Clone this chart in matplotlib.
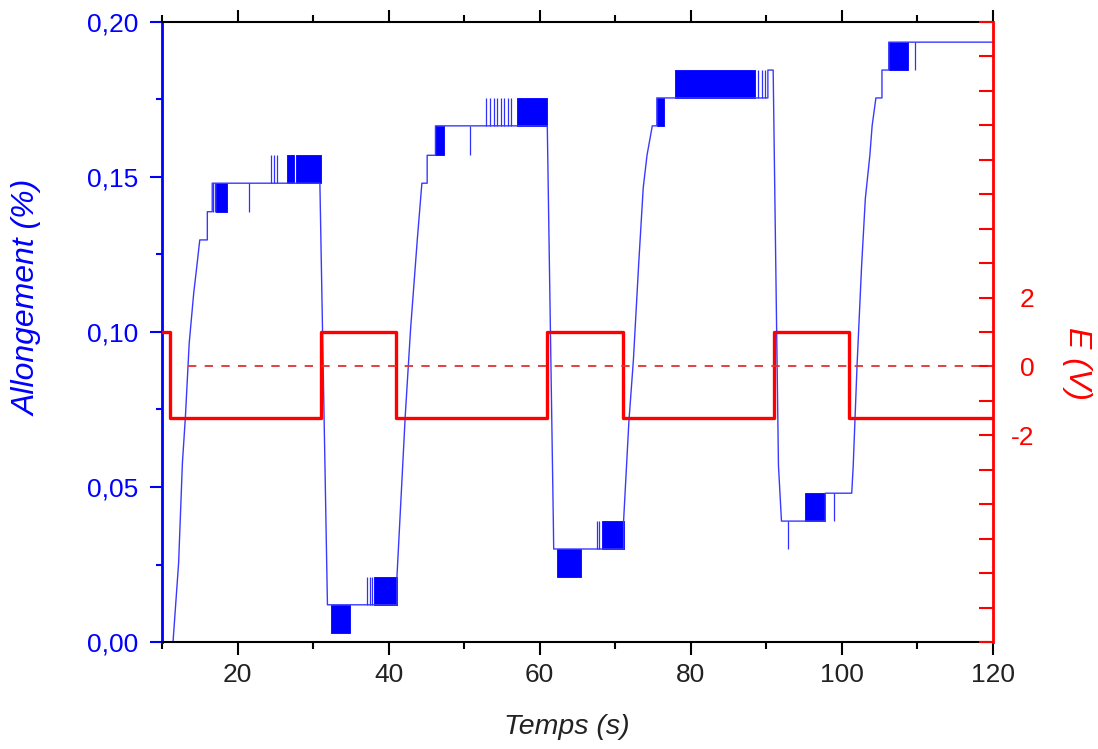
import matplotlib
matplotlib.use("Agg")
import matplotlib.pyplot as plt
from matplotlib.ticker import MultipleLocator, FixedLocator, FixedFormatter, FuncFormatter

plt.rcParams['font.family'] = ['Liberation Sans', 'DejaVu Sans']
plt.rcParams['lines.scale_dashes'] = False

# === Data ===
# strain trace (main envelope)
t_trace = [11.4, 12.2, 12.7, 13.1, 13.6, 14.2, 14.6, 15.0, 16.0, 16.0, 16.65, 16.65,
           30.9, 31.9, 41.1, 41.1, 41.8, 42.2, 42.9, 43.8, 44.4, 45.1, 45.1, 46.2, 46.2,
           61.0, 61.8, 61.85, 71.1, 71.1, 71.8, 72.4, 73.1, 73.7, 74.2, 74.9, 75.5, 75.5,
           90.2, 90.2, 90.9, 91.6, 92.0, 97.8, 97.8, 101.3, 101.5, 102.0, 102.6, 103.1,
           103.7, 104.0, 104.5, 105.3, 105.3, 106.2, 106.2, 120.0]
strain = [-0.002, 0.0255, 0.0577, 0.0727, 0.0964, 0.1126, 0.1210, 0.1297, 0.1297, 0.1388, 0.1388, 0.1480,
          0.1480, 0.0120, 0.0120, 0.0210, 0.0540, 0.0730, 0.1008, 0.1300, 0.1480, 0.1480, 0.1570, 0.1570, 0.1665,
          0.1665, 0.0390, 0.0300, 0.0300, 0.0390, 0.0710, 0.0910, 0.1220, 0.1465, 0.1570, 0.1665, 0.1665, 0.1755,
          0.1755, 0.1845, 0.1845, 0.0570, 0.0390, 0.0390, 0.0480, 0.0480, 0.0570, 0.0890, 0.1210, 0.1430,
          0.1570, 0.1665, 0.1755, 0.1755, 0.1845, 0.1845, 0.1935, 0.1935]

# dense flicker bands between two quantisation levels
band_t0 = [17.1, 26.6, 27.75, 32.4, 38.0, 46.2, 57.0, 62.3, 68.2, 75.5, 77.85, 95.1, 106.2]
band_t1 = [18.55, 27.45, 31.0, 34.9, 41.1, 47.3, 61.0, 65.4, 71.1, 76.4, 88.5, 97.8, 108.7]
band_lo = [0.1388, 0.148, 0.148, 0.003, 0.012, 0.157, 0.1665, 0.021, 0.030, 0.1665, 0.1755, 0.039, 0.1845]
band_hi = [0.148, 0.157, 0.157, 0.012, 0.021, 0.1665, 0.1755, 0.030, 0.039, 0.1755, 0.1845, 0.048, 0.1935]

# isolated flicker spikes
spike_t = [16.8, 16.95, 21.5, 24.4, 24.85, 25.25, 37.2, 37.5, 37.8, 50.8,
           52.9, 53.45, 53.95, 54.4, 54.9, 55.3, 55.75, 56.2, 67.6, 67.9,
           88.95, 89.4, 89.85, 92.9, 98.9, 109.7]
spike_lo = [0.1388, 0.1388, 0.1388, 0.148, 0.148, 0.148, 0.012, 0.012, 0.012, 0.157,
            0.1665, 0.1665, 0.1665, 0.1665, 0.1665, 0.1665, 0.1665, 0.1665, 0.030, 0.030,
            0.1755, 0.1755, 0.1755, 0.030, 0.039, 0.1845]
spike_hi = [0.148, 0.148, 0.148, 0.157, 0.157, 0.157, 0.021, 0.021, 0.021, 0.1665,
            0.1755, 0.1755, 0.1755, 0.1755, 0.1755, 0.1755, 0.1755, 0.1755, 0.039, 0.039,
            0.1845, 0.1845, 0.1845, 0.039, 0.048, 0.1935]

# applied voltage (square wave)
E_switch = [10, 11, 31, 41, 61, 71, 91, 101, 120]
E_level = [1, -1.5, 1, -1.5, 1, -1.5, 1, -1.5]
zero_start = 13.5

left_ticks = [0.00, 0.05, 0.10, 0.15, 0.20]
right_ticks = list(range(-8, 11))
right_labels = {-2: '-2', 0: '0', 2: '2'}

BLUE = '#0000ff'
RED = '#ff0000'

# === Plot ===
fig = plt.figure(figsize=(10.98, 7.49), dpi=100)
ax = fig.add_axes([162 / 1098, 1 - 642 / 749, (993 - 162) / 1098, (642 - 22) / 749])

ax.plot(t_trace, strain, color='#3a3aff', lw=1.0)
for t0, t1, lo, hi in zip(band_t0, band_t1, band_lo, band_hi):
    ax.fill_between([t0, t1], lo, hi, color=BLUE, lw=0.6)
ax.vlines(spike_t, spike_lo, spike_hi, color='#3030ff', lw=0.9)

ax.set_xlim(10, 120)
ax.set_ylim(0, 0.20)
ax.xaxis.set_major_locator(MultipleLocator(20))
ax.xaxis.set_minor_locator(MultipleLocator(10))
ax.yaxis.set_major_locator(FixedLocator(left_ticks))
ax.yaxis.set_minor_locator(MultipleLocator(0.025))
ax.yaxis.set_major_formatter(FuncFormatter(lambda v, p: f"{v:.2f}".replace('.', ',')))

ax.tick_params(axis='x', which='both', direction='out', top=True, color='black', width=1.5,
               labelsize=19, pad=6, labelcolor='#222222')
ax.tick_params(axis='x', which='major', length=9)
ax.tick_params(axis='x', which='minor', length=5)
ax.tick_params(axis='y', which='both', direction='out', color=BLUE, labelcolor=BLUE, width=1.5,
               labelsize=19, pad=8)
ax.tick_params(axis='y', which='major', length=9)
ax.tick_params(axis='y', which='minor', length=4)

ax.spines['left'].set_color(BLUE)
ax.spines['left'].set_linewidth(2)
ax.spines['top'].set_linewidth(1.5)
ax.spines['bottom'].set_linewidth(1.5)
ax.spines['right'].set_visible(False)

ax.set_xlabel('Temps (s)', fontsize=20.5, style='italic', va='center', color='#222222')
ax.xaxis.set_label_coords(0.487, -0.137)
ax.set_ylabel('Allongement (%)', fontsize=23, style='italic', color=BLUE, va='center')
ax.yaxis.set_label_coords(-0.162, 0.555)

# voltage axis
ax2 = ax.twinx()
ax2.step(E_switch, E_level + [E_level[-1]], where='post', color=RED, lw=2.4)
ax2.plot([zero_start, E_switch[-1]], [0, 0], color='#e03030', lw=1.3, dashes=(6, 6))
ax2.set_ylim(-8, 10)
ax2.set_xlim(10, 120)
ax2.yaxis.set_major_locator(FixedLocator(right_ticks))
ax2.yaxis.set_major_formatter(FixedFormatter([right_labels.get(v, '') for v in right_ticks]))
ax2.tick_params(axis='y', direction='in', length=10, width=1.5, color=RED, labelcolor=RED,
                labelsize=19, pad=30)
for lab in ax2.get_yticklabels():
    lab.set_ha('right')
for side in ['left', 'top', 'bottom']:
    ax2.spines[side].set_visible(False)
ax2.spines['right'].set_color(RED)
ax2.spines['right'].set_linewidth(2)
ax2.set_ylabel('E (V)', fontsize=23, style='italic', color=RED, rotation=270, va='center')
ax2.yaxis.set_label_coords(1.101, 0.449)

fig.savefig('out.png', dpi=100)
